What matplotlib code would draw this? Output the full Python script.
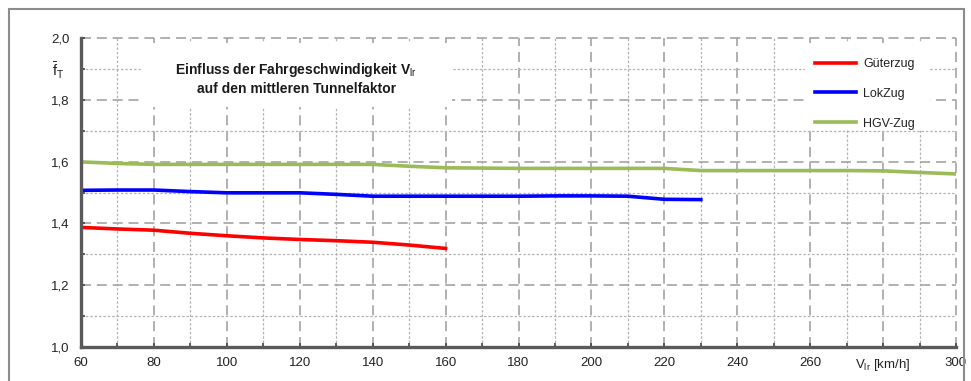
import matplotlib
matplotlib.use("Agg")
import matplotlib.pyplot as plt
from matplotlib.patches import Rectangle
from matplotlib.ticker import MultipleLocator

plt.rcParams['font.family'] = ['Liberation Sans', 'DejaVu Sans']
plt.rcParams['mathtext.fontset'] = 'custom'
plt.rcParams['mathtext.rm'] = 'Liberation Sans'
plt.rcParams['mathtext.it'] = 'Liberation Sans'

# Fahrgeschwindigkeit [km/h] and mean tunnel factor per train type
v_gueter = [60, 70, 80, 90, 100, 110, 120, 130, 140, 150, 160]
f_gueter = [1.387, 1.382, 1.378, 1.368, 1.360, 1.353, 1.348, 1.344, 1.339, 1.330, 1.319]

v_lok = [60, 70, 80, 90, 100, 110, 120, 130, 140, 150, 160, 170, 180, 190, 200, 210, 220, 230]
f_lok = [1.507, 1.508, 1.508, 1.503, 1.499, 1.499, 1.499, 1.494, 1.488, 1.488, 1.488, 1.488,
         1.488, 1.489, 1.489, 1.488, 1.478, 1.477]

v_hgv = [60, 70, 80, 90, 100, 110, 120, 130, 140, 150, 160, 170, 180, 190, 200, 210, 220, 230,
         240, 250, 260, 270, 280, 290, 300]
f_hgv = [1.599, 1.594, 1.591, 1.591, 1.591, 1.591, 1.591, 1.591, 1.591, 1.585, 1.580, 1.579,
         1.578, 1.578, 1.578, 1.578, 1.578, 1.571, 1.571, 1.571, 1.571, 1.571, 1.570, 1.565, 1.560]

series_labels = ['Güterzug', 'LokZug', 'HGV-Zug']
series_colors = ['#ff0000', '#0000ff', '#9bbb59']

x_ticks = [60, 80, 100, 120, 140, 160, 180, 200, 220, 240, 260, 280, 300]
x_ticklabels = ['60', '80', '100', '120', '140', '160', '180', '200', '220', '240', '260',
                r'V$_{\mathrm{lr}}$ [km/h]', '300']
y_ticks = [1.0, 1.2, 1.4, 1.6, 1.8, 2.0]
y_ticklabels = ['1,0', '1,2', '1,4', '1,6', '1,8', '2,0']

title_text = 'Einfluss der Fahrgeschwindigkeit V$_{\\mathrm{lr}}$\nauf den mittleren Tunnelfaktor'

W, H = 971, 381
fig = plt.figure(figsize=(W / 100, H / 100), dpi=100)
ax = fig.add_axes([81 / W, 34 / H, 875 / W, 309 / H])

# outer frame
fig.add_artist(Rectangle((9 / W, -0.2), 955 / W, 1.2 - 9 / H, transform=fig.transFigure,
                         fill=False, edgecolor='#8c8c8c', linewidth=1.5))

ax.set_xlim(60, 300)
ax.set_ylim(1.0, 2.0)
ax.xaxis.set_major_locator(MultipleLocator(20))
ax.xaxis.set_minor_locator(MultipleLocator(10))
ax.yaxis.set_minor_locator(MultipleLocator(0.1))
ax.set_xticks(x_ticks)
ax.set_xticklabels(x_ticklabels)
ax.set_yticks(y_ticks)
ax.set_yticklabels(y_ticklabels)

ax.set_axisbelow(True)
ax.grid(which='major', color='#a3a3a3', linestyle=(0, (6, 3.5)), linewidth=1.2)
ax.grid(which='minor', color='#b3b3b3', linestyle=(0, (2, 1.5)), linewidth=0.9)
for gl in ax.get_xgridlines() + ax.get_ygridlines():
    gl.set_clip_on(False)

ax.tick_params(which='both', direction='in', length=3, width=1.2, color='#444444',
               top=False, right=False)
ax.tick_params(axis='both', which='major', labelsize=9.5, labelcolor='#222222')
ax.tick_params(axis='x', pad=7)
ax.tick_params(axis='y', pad=8)

for s in ['top', 'right']:
    ax.spines[s].set_visible(False)
for s in ['left', 'bottom']:
    ax.spines[s].set_color('#5a5a5a')
    ax.spines[s].set_linewidth(2.4)

# white boxes behind title and legend
ax.add_patch(Rectangle((76.7, 1.777), 85.0, 0.207, facecolor='white', edgecolor='none', zorder=1))
ax.add_patch(Rectangle((258.6, 1.702), 34.3, 0.282, facecolor='white', edgecolor='none', zorder=1))

ax.text(119.0, 1.868, title_text, ha='center', va='center', fontsize=10, fontweight='bold',
        color='#1a1a1a', linespacing=1.25, zorder=3)

ax.text(-17 / 875, 1.895, r'$\bar{\mathrm{f}}_{\mathrm{T}}$', transform=ax.get_yaxis_transform(),
        ha='right', va='center', fontsize=10.5, color='#222222')

ax.plot(v_gueter, f_gueter, color=series_colors[0], linewidth=2.6, label=series_labels[0], zorder=2)
ax.plot(v_lok, f_lok, color=series_colors[1], linewidth=2.6, label=series_labels[1], zorder=2)
ax.plot(v_hgv, f_hgv, color=series_colors[2], linewidth=2.6, label=series_labels[2], zorder=2)

leg = ax.legend(loc='upper left', bbox_to_anchor=((815 - 81) / 875, (347 - 58) / 309),
                frameon=False, fontsize=9, handlelength=3.3, handletextpad=0.55,
                labelspacing=1.42, borderpad=0, borderaxespad=0)
for t in leg.get_texts():
    t.set_color('#222222')

fig.savefig('out.png', dpi=100)
